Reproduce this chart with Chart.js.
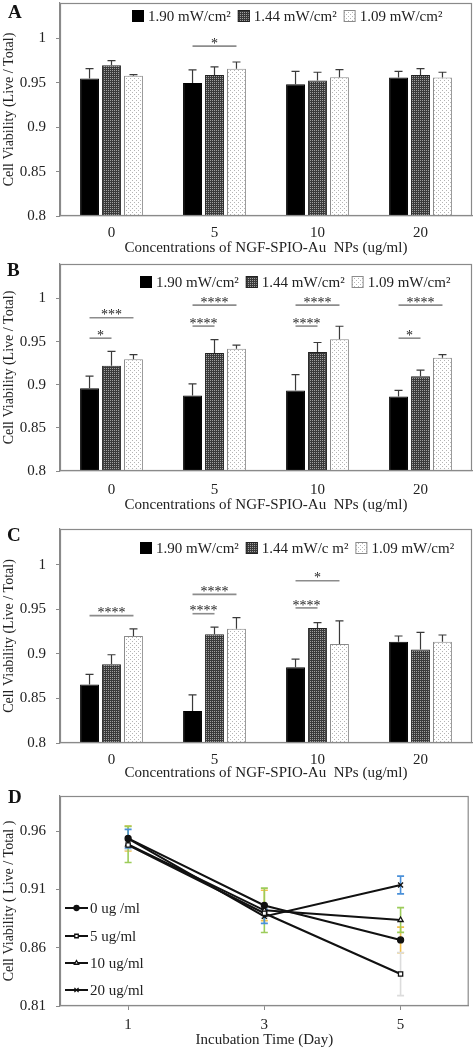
<!DOCTYPE html>
<html><head><meta charset="utf-8">
<script src="https://cdn.jsdelivr.net/npm/chart.js@4.4.1/dist/chart.umd.min.js"></script>
<style>
html,body{margin:0;padding:0;background:#fff;}
body{width:474px;height:1050px;position:relative;overflow:hidden;font-family:"Liberation Serif",serif;}
.panel{position:absolute;left:0;width:474px;}
.letter{position:absolute;font:bold 19px "Liberation Serif",serif;color:#111;line-height:22px;}
canvas{display:block;}
</style></head><body>
<div class="panel" style="top:0;height:260px"><canvas id="cA" width="474" height="260"></canvas></div>
<div class="panel" style="top:260px;height:265px"><canvas id="cB" width="474" height="265"></canvas></div>
<div class="panel" style="top:525px;height:265px"><canvas id="cC" width="474" height="265"></canvas></div>
<div class="panel" style="top:790px;height:260px"><canvas id="cD" width="474" height="260"></canvas></div>
<div class="letter" style="left:8px;top:1px">A</div>
<div class="letter" style="left:7px;top:259px">B</div>
<div class="letter" style="left:7px;top:524px">C</div>
<div class="letter" style="left:8px;top:786px">D</div>
<script>
// ---------- DATA ----------
const categories = ['0', '5', '10', '20'];
const seriesLabels = ['1.90 mW/cm\u00B2', '1.44 mW/cm\u00B2', '1.09 mW/cm\u00B2'];
const seriesLabelsC = ['1.90 mW/cm\u00B2', '1.44 mW/c m\u00B2', '1.09 mW/cm\u00B2'];
const barYTicks = [0.8, 0.85, 0.9, 0.95, 1];

// Panel A
const a190 = [0.955, 0.950, 0.9485, 0.956];
const a190Err = [0.011, 0.0146, 0.0145, 0.007];
const a144 = [0.970, 0.959, 0.9526, 0.959];
const a144Err = [0.005, 0.009, 0.0094, 0.007];
const a109 = [0.958, 0.966, 0.9563, 0.956];
const a109Err = [0.0012, 0.0075, 0.0087, 0.006];
const aSig = [{g: 1, to: 2, y: 0.9914, t: '*'}];

// Panel B
const b190 = [0.896, 0.8875, 0.8933, 0.8864];
const b190Err = [0.014, 0.0135, 0.0184, 0.007];
const b144 = [0.922, 0.9367, 0.938, 0.9098];
const b144Err = [0.0166, 0.0157, 0.011, 0.0072];
const b109 = [0.9297, 0.9417, 0.9528, 0.9313];
const b109Err = [0.0053, 0.0043, 0.015, 0.0037];
const bSig = [
  {g: 0, to: 1, y: 0.954, t: '*'}, {g: 0, to: 2, y: 0.9777, t: '***'},
  {g: 1, to: 1, y: 0.968, t: '****'}, {g: 1, to: 2, y: 0.9923, t: '****'},
  {g: 2, to: 1, y: 0.968, t: '****'}, {g: 2, to: 2, y: 0.9923, t: '****'},
  {g: 3, to: 1, y: 0.954, t: '*'}, {g: 3, to: 2, y: 0.9923, t: '****'}
];

// Panel C
const c190 = [0.8655, 0.836, 0.885, 0.9136];
const c190Err = [0.0115, 0.018, 0.009, 0.0064];
const c144 = [0.8883, 0.922, 0.929, 0.905];
const c144Err = [0.0107, 0.008, 0.006, 0.019];
const c109 = [0.920, 0.928, 0.911, 0.9136];
const c109Err = [0.008, 0.0125, 0.026, 0.0075];
const cSig = [
  {g: 0, to: 2, y: 0.9428, t: '****'},
  {g: 1, to: 1, y: 0.945, t: '****'}, {g: 1, to: 2, y: 0.9667, t: '****'},
  {g: 2, to: 1, y: 0.9515, t: '****'}, {g: 2, to: 2, y: 0.982, t: '*'}
];

// Panel D
const days = ['1', '3', '5'];
const dYTicks = [0.81, 0.86, 0.91, 0.96];
const dLabels = ['0 ug /ml', '5 ug/ml', '10 ug/ml', '20 ug/ml'];
const d0 = [0.9536, 0.8962, 0.8666];
const d0Err = [0.0107, 0.013, 0.011];
const d5 = [0.948, 0.8895, 0.8374];
const d5Err = [0.004, 0.004, 0.0185];
const d10 = [0.9485, 0.892, 0.8837];
const d10Err = [0.0155, 0.019, 0.0106];
const d20 = [0.9534, 0.8868, 0.9137];
const d20Err = [0.008, 0.006, 0.0076];

// ---------- STYLE ----------
const FONT = 'Liberation Serif';
const TXT = '#222';
const AX = '#8a8a8a';
Chart.defaults.font.family = FONT;
Chart.defaults.color = TXT;

function makePattern(bg, dot, pts) {
  const c = document.createElement('canvas');
  c.width = 4; c.height = 4;
  const x = c.getContext('2d');
  x.fillStyle = bg; x.fillRect(0, 0, 4, 4);
  x.fillStyle = dot;
  pts.forEach(p => x.fillRect(p[0], p[1], 1, 1));
  return x.createPattern(c, 'repeat');
}
const darkPat = makePattern('#3a3a3a', '#a0a0a0', [[0,0],[2,2],[0,2],[2,0]]);
const lightPat = makePattern('#ffffff', '#b4b4b4', [[0,0],[2,2]]);
const fills = ['#000000', darkPat, lightPat];
const borders = ['#000000', '#222222', '#8a8a8a'];

// ---------- PLUGINS ----------
const boxPlugin = {
  id: 'box',
  afterDraw(chart) {
    const {ctx, chartArea: a} = chart;
    ctx.save();
    ctx.strokeStyle = AX; ctx.lineWidth = 1.2;
    ctx.strokeRect(a.left + 0.5, a.top + 0.5, a.right - a.left - 1, a.bottom - a.top - 1);
    ctx.restore();
  }
};

const barErrPlugin = {
  id: 'barErr',
  afterDatasetsDraw(chart) {
    const ctx = chart.ctx, ys = chart.scales.y;
    chart.data.datasets.forEach((ds, i) => {
      if (!ds.errUp) return;
      chart.getDatasetMeta(i).data.forEach((el, j) => {
        const x = el.x;
        const y0 = ys.getPixelForValue(ds.data[j]);
        const y1 = ys.getPixelForValue(ds.data[j] + ds.errUp[j]);
        ctx.save();
        ctx.strokeStyle = '#3a3a3a'; ctx.lineWidth = 1.2;
        ctx.beginPath();
        ctx.moveTo(x, y0); ctx.lineTo(x, y1);
        ctx.moveTo(x - 4, y1); ctx.lineTo(x + 4, y1);
        ctx.stroke();
        ctx.restore();
      });
    });
  }
};

function sigPlugin(items) {
  return {
    id: 'sig',
    afterDatasetsDraw(chart) {
      const ctx = chart.ctx, ys = chart.scales.y;
      items.forEach(it => {
        const x1 = chart.getDatasetMeta(0).data[it.g].x;
        const x2 = chart.getDatasetMeta(it.to).data[it.g].x;
        const y = ys.getPixelForValue(it.y);
        ctx.save();
        ctx.strokeStyle = '#8c8c8c'; ctx.lineWidth = 1.6;
        ctx.beginPath(); ctx.moveTo(x1, y); ctx.lineTo(x2, y); ctx.stroke();
        ctx.fillStyle = TXT;
        ctx.font = '14px "' + FONT + '"';
        ctx.textAlign = 'center'; ctx.textBaseline = 'middle';
        ctx.fillText(it.t, (x1 + x2) / 2, y - 2);
        ctx.restore();
      });
    }
  };
}

function barLegendPlugin(startX, yc) {
  return {
    id: 'barLegend',
    afterDraw(chart) {
      const ctx = chart.ctx;
      ctx.save();
      ctx.font = '15px "' + FONT + '"';
      ctx.textBaseline = 'middle'; ctx.textAlign = 'left';
      let bx = startX;
      chart.data.datasets.forEach((ds) => {
        ctx.fillStyle = ds.backgroundColor;
        ctx.fillRect(bx, yc - 6, 12, 12);
        ctx.strokeStyle = ds.borderColor; ctx.lineWidth = 1;
        ctx.strokeRect(bx + 0.5, yc - 5.5, 11, 11);
        ctx.fillStyle = TXT;
        ctx.fillText(ds.label, bx + 16, yc + 1);
        bx += 16 + ctx.measureText(ds.label).width + 7;
      });
      ctx.restore();
    }
  };
}

function barChart(id, labels, s1, e1, s2, e2, s3, e3, sig, cfg) {
  const vals = [s1, s2, s3], errs = [e1, e2, e3];
  return new Chart(document.getElementById(id), {
    type: 'bar',
    data: {
      labels: categories,
      datasets: vals.map((v, i) => ({
        label: labels[i], data: v, errUp: errs[i],
        backgroundColor: fills[i], borderColor: borders[i], borderWidth: 1,
        categoryPercentage: 0.64, barPercentage: 0.86
      }))
    },
    options: {
      responsive: false, animation: false,
      layout: {padding: {top: cfg.top, right: 2, left: 0, bottom: 0}},
      plugins: {legend: {display: false}, tooltip: {enabled: false}},
      scales: {
        x: {
          afterFit(s) { s.height = cfg.xh; s.paddingLeft = 0; s.paddingRight = 0; },
          grid: {display: false, drawTicks: false},
          border: {color: AX, width: 1.2},
          ticks: {padding: cfg.tp, color: TXT, font: {size: 15}},
          title: {display: true, text: 'Concentrations of NGF-SPIO-Au  NPs (ug/ml)', color: TXT,
                  font: {size: 15}, padding: {top: 0, bottom: cfg.tb}}
        },
        y: {
          min: 0.8, max: 1.04,
          afterFit(s) { s.width = 60; s.paddingTop = 0; s.paddingBottom = 0; },
          afterBuildTicks(s) { s.ticks = barYTicks.map(v => ({value: v})); },
          ticks: {padding: 10, color: TXT, font: {size: 15}, callback: v => String(+(+v).toFixed(2))},
          grid: {drawOnChartArea: false, drawTicks: true, tickLength: 4, color: AX},
          border: {color: AX, width: 1.2},
          title: {display: true, text: 'Cell Viability (Live / Total)', color: TXT,
                  font: {size: 14}, padding: {top: 1, bottom: 0}}
        }
      }
    },
    plugins: [boxPlugin, barErrPlugin, sigPlugin(sig), barLegendPlugin(cfg.lx, cfg.ly)]
  });
}

barChart('cA', seriesLabels, a190, a190Err, a144, a144Err, a109, a109Err, aSig,
  {top: 3, xh: 44, tp: 8, tb: 3, lx: 132, ly: 16});
barChart('cB', seriesLabels, b190, b190Err, b144, b144Err, b109, b109Err, bSig,
  {top: 4, xh: 54, tp: 10, tb: 11, lx: 140, ly: 22});
barChart('cC', seriesLabelsC, c190, c190Err, c144, c144Err, c109, c109Err, cSig,
  {top: 4, xh: 47, tp: 8, tb: 8, lx: 140, ly: 23});

// ---------- PANEL D ----------
const dErrPlugin = {
  id: 'dErr',
  beforeDatasetsDraw(chart) {
    const ctx = chart.ctx, ys = chart.scales.y;
    chart.data.datasets.forEach((ds, i) => {
      chart.getDatasetMeta(i).data.forEach((el, j) => {
        const x = el.x;
        const yt = ys.getPixelForValue(ds.data[j] + ds.err[j]);
        const yb = ys.getPixelForValue(ds.data[j] - ds.err[j]);
        ctx.save();
        ctx.strokeStyle = ds.errColor; ctx.lineWidth = 1.6;
        ctx.beginPath();
        ctx.moveTo(x, yt); ctx.lineTo(x, yb);
        ctx.moveTo(x - 3.5, yt); ctx.lineTo(x + 3.5, yt);
        ctx.moveTo(x - 3.5, yb); ctx.lineTo(x + 3.5, yb);
        ctx.stroke();
        ctx.restore();
      });
    });
  }
};

const dLegendPlugin = {
  id: 'dLegend',
  afterDraw(chart) {
    const ctx = chart.ctx;
    const rows = [118, 146, 173, 200];
    ctx.save();
    chart.data.datasets.forEach((ds, i) => {
      const y = rows[i];
      ctx.strokeStyle = '#111'; ctx.lineWidth = 2;
      ctx.beginPath(); ctx.moveTo(65, y); ctx.lineTo(88, y); ctx.stroke();
      ctx.fillStyle = ds.pointBackgroundColor; ctx.strokeStyle = '#111'; ctx.lineWidth = 1.3;
      Chart.helpers.drawPoint(ctx, {pointStyle: ds.pointStyle, radius: ds.pointRadius - 0.5, borderWidth: 1.3, rotation: 0}, 76.5, y);
      ctx.fillStyle = TXT;
      ctx.font = '15px "' + FONT + '"';
      ctx.textBaseline = 'middle'; ctx.textAlign = 'left';
      ctx.fillText(ds.label, 90, y + 1);
    });
    ctx.restore();
  }
};

const dSeries = [
  {label: dLabels[0], data: d0, err: d0Err, errColor: '#f2c14e', pointStyle: 'circle', bg: '#111', r: 3},
  {label: dLabels[1], data: d5, err: d5Err, errColor: '#dcdcdc', pointStyle: 'rect', bg: '#ffffff', r: 3},
  {label: dLabels[2], data: d10, err: d10Err, errColor: '#9ccc5a', pointStyle: 'triangle', bg: '#ffffff', r: 3},
  {label: dLabels[3], data: d20, err: d20Err, errColor: '#4a90d9', pointStyle: 'crossRot', bg: '#111', r: 3.5}
];

new Chart(document.getElementById('cD'), {
  type: 'line',
  data: {
    labels: days,
    datasets: dSeries.map(s => ({
      label: s.label, data: s.data, err: s.err, errColor: s.errColor,
      borderColor: '#111', borderWidth: 2, tension: 0,
      pointStyle: s.pointStyle, pointRadius: s.r, pointBackgroundColor: s.bg,
      pointBorderColor: '#111', pointBorderWidth: 1.3
    }))
  },
  options: {
    responsive: false, animation: false,
    layout: {padding: {top: 6, right: 3, left: 0, bottom: 0}},
    plugins: {legend: {display: false}, tooltip: {enabled: false}},
    scales: {
      x: {
        offset: true,
        afterFit(s) { s.height = 44; s.paddingLeft = 0; s.paddingRight = 0; },
        grid: {drawOnChartArea: false, drawTicks: true, tickLength: 4, color: AX, offset: false},
        border: {color: AX, width: 1.2},
        ticks: {padding: 6, color: TXT, font: {size: 15}},
        title: {display: true, text: 'Incubation Time (Day)', color: TXT, font: {size: 15}, padding: {top: 0, bottom: 1}}
      },
      y: {
        min: 0.81, max: 0.99,
        afterFit(s) { s.width = 60; s.paddingTop = 0; s.paddingBottom = 0; },
        afterBuildTicks(s) { s.ticks = dYTicks.map(v => ({value: v})); },
        ticks: {padding: 10, color: TXT, font: {size: 15}, callback: v => (+v).toFixed(2)},
        grid: {drawOnChartArea: false, drawTicks: true, tickLength: 4, color: AX},
        border: {color: AX, width: 1.2},
        title: {display: true, text: 'Cell Viability ( Live / Total )', color: TXT, font: {size: 14}, padding: {top: 1, bottom: 0}}
      }
    }
  },
  plugins: [boxPlugin, dErrPlugin, dLegendPlugin]
});
</script>
</body></html>
